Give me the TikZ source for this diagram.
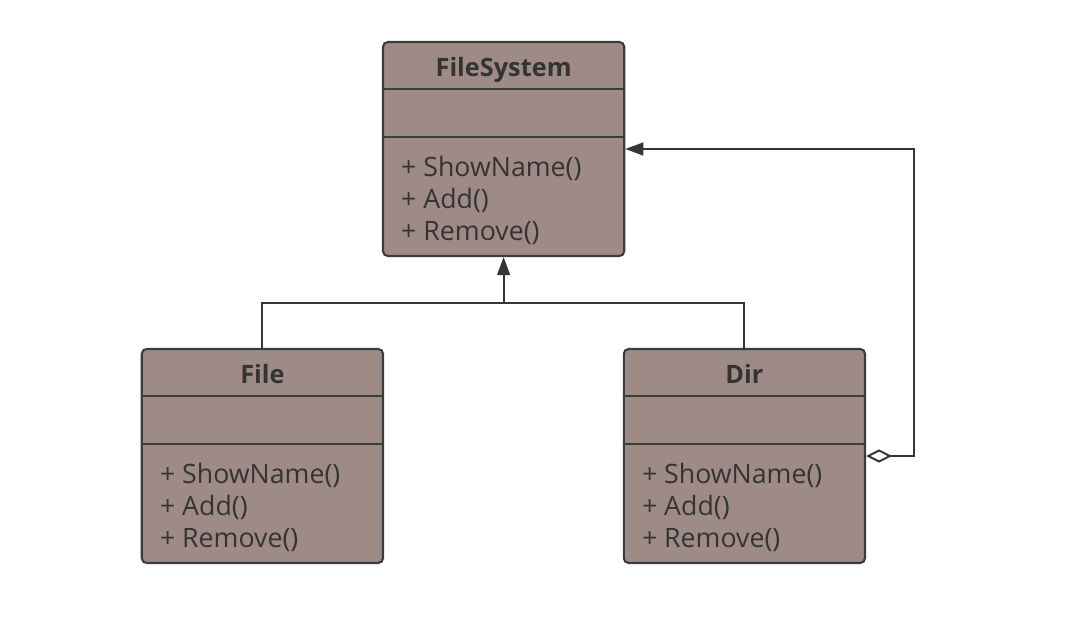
\documentclass[tikz,border=0pt]{standalone}
\usepackage{fontspec}
\setmainfont{Open Sans}
\usetikzlibrary{calc,arrows.meta}

\definecolor{classfill}{RGB}{158,139,134}
\definecolor{classline}{RGB}{58,60,64}
\definecolor{classtext}{RGB}{52,52,52}

\tikzset{
  classbox/.style={draw=classline, fill=classfill, line width=1.5pt, rounded corners=0.12cm,
                   minimum width=6.03cm, minimum height=5.35cm, inner sep=0pt},
  divider/.style={draw=classline, line width=1.5pt},
  classtitle/.style={anchor=base, text=classtext, font=\bfseries\fontsize{18}{22}\selectfont, inner sep=0pt},
  method/.style={anchor=base west, text=classtext, font=\fontsize{19}{23}\selectfont, inner sep=0pt},
  link/.style={draw=classline!90!black, line width=1.4pt},
}

% one class box: name, position, title
\newcommand{\umlclass}[3]{%
  \node (#1) [classbox] at (#2) {};
  \draw[divider] ($(#1.north west)+(0,-1.2)$) -- ($(#1.north east)+(0,-1.2)$);
  \draw[divider] ($(#1.north west)+(0,-2.4)$) -- ($(#1.north east)+(0,-2.4)$);
  \node (#1 title) [classtitle] at ($(#1.north)+(0,-0.88)$) {#3};
  \node (#1 m1) [method] at ($(#1.north west)+(0.475,-3.39)$) {+ ShowName()};
  \node (#1 m2) [method] at ($(#1.north west)+(0.475,-4.19)$) {+ Add()};
  \node (#1 m3) [method] at ($(#1.north west)+(0.475,-4.99)$) {+ Remove()};
}

\begin{document}
\begin{tikzpicture}
   \useasboundingbox (0,0) rectangle (26.65,-15.65);

   \umlclass{fs}{12.59,-3.725}{FileSystem}
   \umlclass{file}{6.56,-11.4}{File}
   \umlclass{dir}{18.61,-11.4}{Dir}

   % inheritance
   \coordinate (join) at (12.59,-7.575);
   \draw[link] (file.north) |- (join) -| (dir.north);
   \draw[link, -{Triangle[length=0.45cm,width=0.32cm]}] (join) -- (fs.south);

   % aggregation
   \draw[link, {Diamond[open,fill=white,length=0.65cm,width=0.33cm]}-{Triangle[length=0.45cm,width=0.32cm]}]
        (dir.east) -- ++(1.2,0) |- (fs.east);
\end{tikzpicture}
\end{document}
